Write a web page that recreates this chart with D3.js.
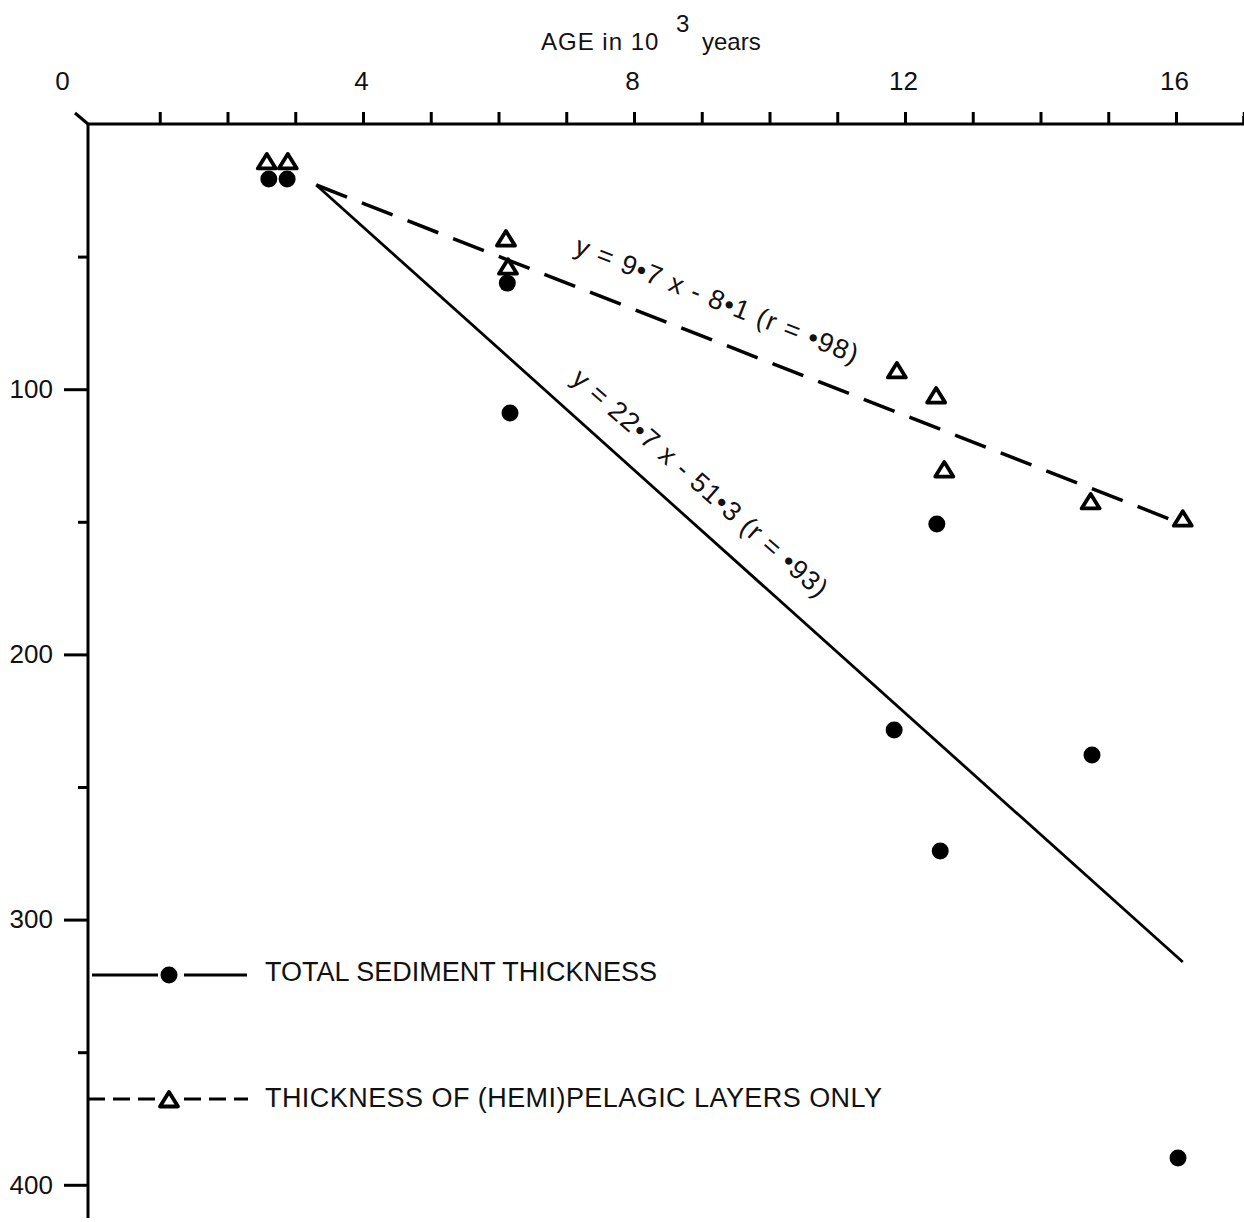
<!DOCTYPE html>
<html>
<head>
<meta charset="utf-8">
<script src="https://cdn.jsdelivr.net/npm/d3@7"></script>
<style>
  body { margin: 0; background: #fff; }
  svg text { font-family: "Liberation Sans", Arial, sans-serif; fill: #111; }
</style>
</head>
<body>
<div id="viz"></div>
<script>
// values (age in 10^3 yr, thickness in cm)
const totalAge = [2.61, 2.88, 6.13, 6.17, 12.47, 11.84, 12.52, 14.76, 16.03];
const totalThick = [20.7, 20.7, 60, 109, 150.8, 228.5, 274.1, 237.9, 389.9];
const hemiAge = [2.58, 2.89, 6.11, 6.14, 11.88, 12.46, 12.58, 14.74, 16.1];
const hemiThick = [14.3, 14.3, 43.4, 54, 93.1, 102.6, 130.5, 142.5, 149];
// regression lines as drawn (end points)
const totalFit = [[3.31, 23], [16.1, 316]];
const hemiFit = [[3.31, 23], [15.94, 149.3]];
const xLabels = [0, 4, 8, 12, 16];
const xMinor = d3.range(1, 18);
const yLabels = [100, 200, 300, 400];
const yMinor = [50, 150, 250, 350];

const width = 1244, height = 1222;

const x = d3.scaleLinear().domain([0, 17]).range([92, 92 + 67.75 * 17]);
const y = d3.scaleLinear().domain([0, 400]).range([124, 124 + 2.652 * 400]);
const yAxisX = 88;

const svg = d3.select('#viz')
    .append('svg')
    .attr('width', width)
    .attr('height', height);

// top axis: minor ticks every 1, labels every 4
const xAxisG = svg.append('g')
    .attr('transform', 'translate(0,' + y(0) + ')')
    .call(d3.axisTop(x).tickValues(xMinor).tickSize(12).tickFormat(''));
xAxisG.select('.domain').attr('d', 'M' + yAxisX + ',0H' + x(17) + 'v-8');
xAxisG.selectAll('line').attr('stroke-width', 3);
xAxisG.select('.domain').attr('stroke-width', 3).attr('fill', 'none');

const xLab = svg.append('g')
    .attr('transform', 'translate(0,' + y(0) + ')')
    .call(d3.axisTop(x).tickValues(xLabels).tickSize(0).tickPadding(34));
xLab.select('.domain').remove();
xLab.selectAll('text')
    .attr('font-size', 26)
    .attr('font-family', '"Liberation Sans", Arial, sans-serif')
    .attr('fill', '#111')
    .attr('dx', d => d == 0 ? -30 : -2);

// little corner stroke
svg.append('line')
    .attr('x1', yAxisX).attr('y1', y(0))
    .attr('x2', yAxisX - 13).attr('y2', y(0) - 11)
    .attr('stroke', '#000').attr('stroke-width', 3);

// left axis
const yAxisG = svg.append('g')
    .attr('transform', 'translate(' + yAxisX + ',0)')
    .call(d3.axisLeft(y).tickValues(yLabels).tickSize(24).tickPadding(11));
yAxisG.select('.domain').attr('d', 'M0,' + y(0) + 'V1218')
    .attr('stroke-width', 3);
yAxisG.selectAll('line').attr('stroke-width', 3);
yAxisG.selectAll('text')
    .attr('font-size', 26)
    .attr('font-family', '"Liberation Sans", Arial, sans-serif')
    .attr('fill', '#111');

const yMin = svg.append('g')
    .attr('transform', 'translate(' + yAxisX + ',0)')
    .call(d3.axisLeft(y).tickValues(yMinor).tickSize(10).tickFormat(''));
yMin.select('.domain').remove();
yMin.selectAll('line').attr('stroke-width', 3);

// axis title
const title = svg.append('g');
title.append('text').attr('x', 541).attr('y', 50).attr('font-size', 24)
    .attr('letter-spacing', 1).text('AGE  in  10');
title.append('text').attr('x', 676).attr('y', 32).attr('font-size', 24).text('3');
title.append('text').attr('x', 702).attr('y', 50).attr('font-size', 24).text('years');

// fit lines
const line = d3.line().x(d => x(d[0])).y(d => y(d[1]));
svg.append('path')
    .attr('d', line(totalFit))
    .attr('fill', 'none').attr('stroke', '#000').attr('stroke-width', 2.8);
svg.append('path')
    .attr('d', line(hemiFit))
    .attr('fill', 'none').attr('stroke', '#000').attr('stroke-width', 3.5)
    .attr('stroke-dasharray', '33,16');

// line labels
svg.append('text')
    .attr('transform', 'translate(573,253) rotate(21.5)')
    .attr('font-size', 27)
    .attr('textLength', 302).attr('lengthAdjust', 'spacing')
    .text('y = 9•7 x - 8•1  (r = •98)');
svg.append('text')
    .attr('transform', 'translate(570,381) rotate(41.3)')
    .attr('font-size', 27)
    .attr('textLength', 330).attr('lengthAdjust', 'spacing')
    .text('y = 22•7 x - 51•3  (r = •93)');

// markers
const tri = 'M0,-8L9,6.5L-9,6.5Z';
const totalPts = totalAge.map((a, i) => [a, totalThick[i]]);
const hemiPts = hemiAge.map((a, i) => [a, hemiThick[i]]);

svg.append('g').selectAll('circle')
    .data(totalPts)
    .join('circle')
    .attr('cx', d => x(d[0]))
    .attr('cy', d => y(d[1]))
    .attr('r', 8.5)
    .attr('fill', '#000');

svg.append('g').selectAll('path')
    .data(hemiPts)
    .join('path')
    .attr('transform', d => 'translate(' + x(d[0]) + ',' + y(d[1]) + ')')
    .attr('d', tri)
    .attr('fill', '#fff')
    .attr('stroke', '#000')
    .attr('stroke-width', 3.8)
    .attr('stroke-linejoin', 'round');

// legend
const legend = svg.append('g');
legend.append('path').attr('d', 'M92,975H158M184,975H247')
    .attr('stroke', '#000').attr('stroke-width', 3);
legend.append('circle').attr('cx', 169).attr('cy', 975).attr('r', 8.5).attr('fill', '#000');
legend.append('text').attr('x', 265).attr('y', 981).attr('font-size', 27)
    .attr('textLength', 392).attr('lengthAdjust', 'spacing')
    .text('TOTAL SEDIMENT THICKNESS');

legend.append('path').attr('d', 'M88,1099H158M184,1099H248')
    .attr('stroke', '#000').attr('stroke-width', 3)
    .attr('stroke-dasharray', '17,8');
legend.append('path').attr('transform', 'translate(169,1100)').attr('d', tri)
    .attr('fill', '#fff').attr('stroke', '#000').attr('stroke-width', 3.8)
    .attr('stroke-linejoin', 'round');
legend.append('text').attr('x', 265).attr('y', 1107).attr('font-size', 27)
    .attr('textLength', 617).attr('lengthAdjust', 'spacing')
    .text('THICKNESS OF (HEMI)PELAGIC LAYERS ONLY');
</script>
</body>
</html>
